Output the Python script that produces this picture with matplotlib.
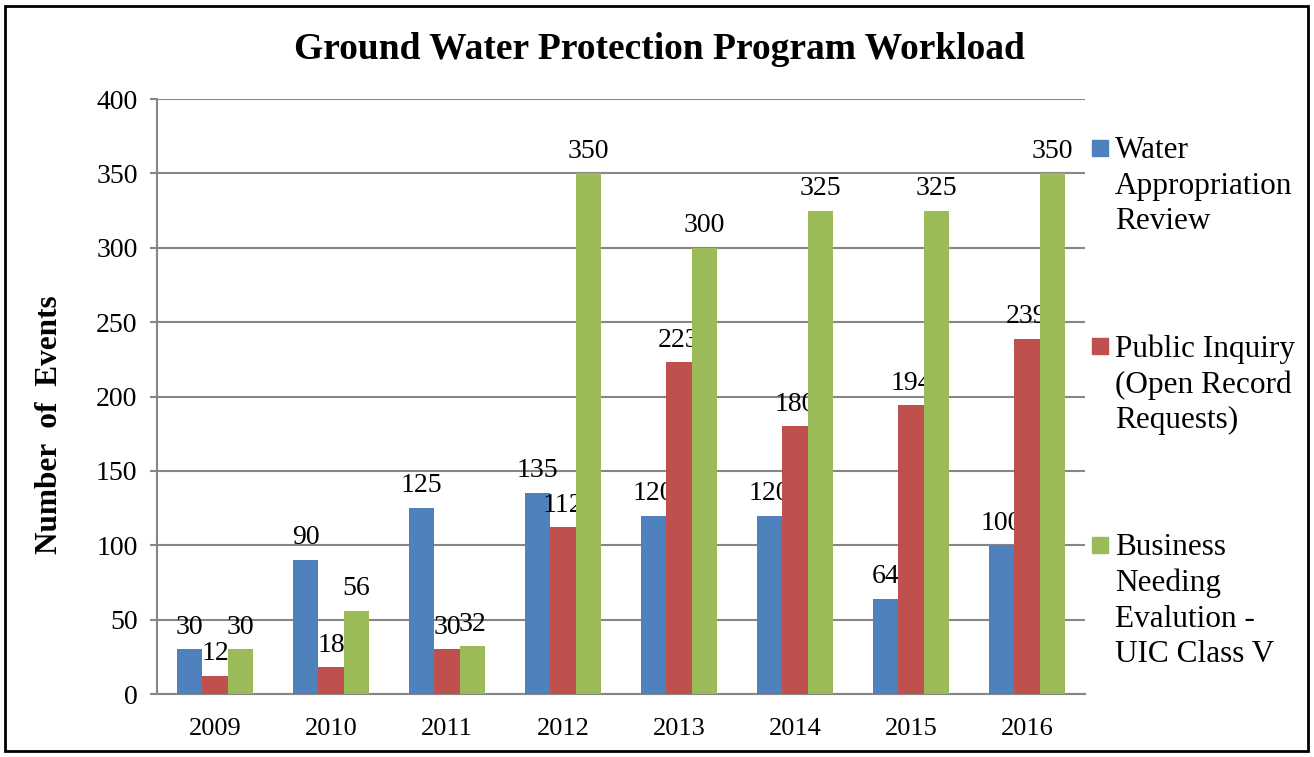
import numpy as np
import matplotlib.pyplot as plt
import matplotlib.patches as patches

years = ['2009', '2010', '2011', '2012', '2013', '2014', '2015', '2016']
water_review = [30, 90, 125, 135, 120, 120, 64, 100]
public_inquiry = [12, 18, 30, 112, 223, 180, 194, 239]
business_uic = [30, 56, 32, 350, 300, 325, 325, 350]

series_names = ['Water\nAppropriation\nReview',
                'Public Inquiry\n(Open Record\nRequests)',
                'Business\nNeeding\nEvalution -\nUIC Class V']
colors = ['#4F81BD', '#C0504D', '#9BBB59']

plt.rcParams['font.family'] = ['Liberation Serif', 'DejaVu Serif']

fig = plt.figure(figsize=(13.14, 7.57), dpi=100)
ax = fig.add_axes([0.1195, 0.0832, 0.7062, 0.786])

x = np.arange(len(years))
w = 0.22
for k, vals in enumerate([water_review, public_inquiry, business_uic]):
    bars = ax.bar(x + (k - 1) * w, vals, width=w, color=colors[k], zorder=3)
    for b, v in zip(bars, vals):
        ax.annotate(str(v), (b.get_x() + b.get_width() / 2, v),
                    xytext=(0, 7), textcoords='offset points',
                    ha='center', va='bottom', fontsize=20)

ax.set_xlim(-0.5, len(years) - 0.5)
ax.set_ylim(0, 400)
ax.set_yticks(range(0, 401, 50))
ax.set_xticks(x)
ax.set_xticklabels(years)
ax.tick_params(axis='x', length=0, labelsize=19, pad=17)
ax.tick_params(axis='y', length=5, width=1.5, color='#868686', labelsize=20, pad=9)
ax.yaxis.grid(True, color='#868686', linewidth=1.5, zorder=0)
for s in ['top', 'right']:
    ax.spines[s].set_visible(False)
for s in ['left', 'bottom']:
    ax.spines[s].set_color('#868686')
    ax.spines[s].set_linewidth(1.5)

fig.text(0.502, 0.935, 'Ground Water Protection Program Workload',
         ha='center', va='center', fontsize=27, fontweight='bold')
fig.text(0.038, 0.439, 'Number  of  Events', rotation=90,
         ha='center', va='center', fontsize=22.5, fontweight='bold')

# legend drawn by hand so the swatch sits on the first line of each label
leg_y = [148, 346, 545]
for name, c, yy in zip(series_names, colors, leg_y):
    fy = 1 - yy / 757
    fig.patches.append(patches.Rectangle((1092 / 1314, fy - 8 / 757), 16 / 1314, 16 / 757,
                                         transform=fig.transFigure, color=c))
    fig.text(1115 / 1314, fy + 12 / 757, name, ha='left', va='top',
             fontsize=22.5, linespacing=1.3)

fig.patches.append(patches.Rectangle((5 / 1314, 6 / 757), 1303 / 1314, 745 / 757,
                                     transform=fig.transFigure, fill=False,
                                     edgecolor='black', linewidth=2))

fig.savefig('out.png', dpi=100)
